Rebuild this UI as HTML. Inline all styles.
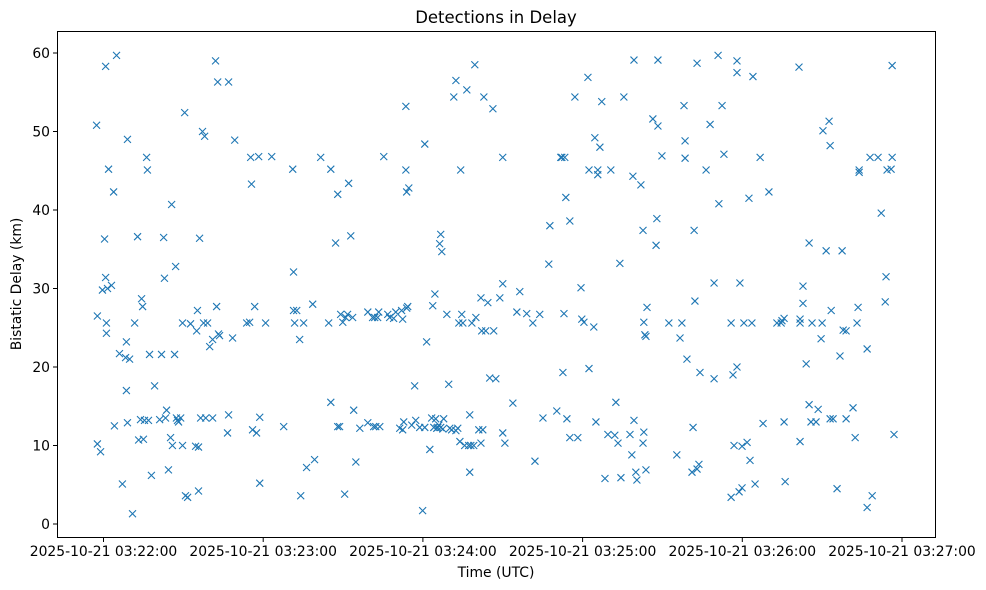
<!DOCTYPE html>
<html><head><meta charset="utf-8"><style>
body{margin:0;background:#fff;}
svg{display:block;font-family:"DejaVu Sans","Liberation Sans",sans-serif;}
</style></head><body>
<svg id="chart" width="986" height="590" viewBox="0 0 986 590" xmlns="http://www.w3.org/2000/svg">
<rect x="0" y="0" width="986" height="590" fill="#fff"/>
<text x="496" y="23" text-anchor="middle" font-size="16.5">Detections in Delay</text>
<g id="marks"></g>
<g id="axes"></g>
<rect x="57.5" y="31.5" width="878" height="506" fill="none" stroke="#000" stroke-width="1"/>
<text x="496" y="577" text-anchor="middle" font-size="13.9">Time (UTC)</text>
<text transform="translate(21,284) rotate(-90)" text-anchor="middle" font-size="13.9">Bistatic Delay (km)</text>
</svg>
<script>
// seconds after 2025-10-21 03:22:00 UTC
const times=[-2.6,-2.3,-2.3,-1.1,-0.4,0.4,0.8,0.8,1.1,1.1,1.5,1.9,3.0,3.8,4.1,4.9,6.0,7.1,8.3,8.6,8.6,9.0,9.0,9.8,10.9,11.7,12.8,13.2,13.9,14.3,14.7,15.0,15.4,16.2,16.5,16.9,17.3,18.0,19.2,21.1,21.8,22.6,22.9,23.3,23.7,24.4,25.2,25.6,25.9,26.7,27.1,27.4,27.8,28.2,29.0,29.7,29.7,30.5,30.8,31.6,32.7,34.6,35.0,35.3,35.7,35.7,36.1,36.5,37.2,37.6,38.0,38.4,39.1,39.9,41.0,41.0,42.1,42.5,42.9,43.2,43.6,46.6,47.0,47.0,48.5,49.3,53.8,54.9,55.3,55.6,56.0,56.8,57.5,58.3,58.7,58.7,60.9,63.2,67.7,71.1,71.4,71.4,71.8,72.6,73.7,74.1,75.2,76.3,78.6,79.3,81.6,84.6,85.4,85.4,87.2,88.0,88.0,88.7,89.1,89.9,90.6,91.0,91.7,92.1,92.9,93.6,94.0,94.8,96.3,99.3,99.3,101.1,101.5,101.9,102.3,103.0,103.4,103.8,105.3,106.8,107.5,109.0,109.8,111.3,112.0,112.4,112.4,112.8,113.6,113.6,113.9,114.3,113.9,114.7,115.8,116.9,117.3,118.8,119.9,120.7,120.7,121.4,122.6,123.3,123.7,124.1,124.5,124.8,125.2,125.6,126.0,126.3,126.7,126.7,127.1,127.5,127.8,129.0,129.7,130.1,130.8,131.6,132.4,132.4,133.1,133.5,133.9,134.2,134.6,135.0,135.7,136.5,137.2,137.6,137.6,138.0,138.4,139.1,139.5,139.9,141.0,141.8,141.8,142.1,142.5,142.9,143.6,144.4,145.1,146.3,146.6,147.4,148.9,150.0,150.0,150.0,150.8,153.8,155.3,156.4,159.0,161.3,162.1,163.9,165.1,167.3,167.7,170.3,171.8,172.2,172.6,173.0,173.3,173.7,174.1,175.2,175.2,177.1,178.2,179.4,179.7,180.5,182.0,182.4,182.4,184.2,184.6,185.0,185.7,185.7,186.5,187.2,188.4,189.5,190.6,192.1,192.5,193.3,194.0,194.4,195.5,197.8,198.5,198.9,199.3,199.3,200.0,200.4,201.9,202.7,202.7,203.0,203.0,203.4,203.8,203.8,204.2,206.4,207.6,207.9,208.3,208.3,209.8,212.4,215.4,216.6,217.3,218.1,218.5,218.5,219.2,221.1,221.5,221.9,222.2,223.0,223.0,223.7,224.1,226.4,227.9,229.4,229.4,230.9,231.2,232.4,233.1,235.8,235.8,236.5,236.9,238.0,238.0,238.0,238.8,239.1,239.9,239.9,240.6,241.8,242.5,242.9,243.6,244.0,244.8,246.7,247.8,250.0,253.0,254.6,254.9,255.7,255.7,256.1,261.3,261.7,261.7,261.7,262.8,262.8,264.0,265.1,265.1,265.8,266.2,267.7,268.5,269.6,270.0,270.3,271.5,272.6,273.0,273.0,273.4,274.1,275.6,276.7,277.5,277.9,279.0,279.0,281.6,282.4,283.1,283.5,283.9,283.9,286.9,286.9,288.0,288.8,291.0,292.2,293.7,294.0,294.4,295.9,296.3,296.3,297.0];
const delays=[50.8,26.5,10.2,9.2,29.8,36.3,31.4,58.3,25.6,24.3,30,45.2,30.4,42.3,12.5,59.7,21.7,5.1,21.2,17,23.2,49,12.9,21,1.3,25.6,36.6,10.7,13.3,28.7,27.7,10.8,13.2,46.7,45.1,13.2,21.6,6.2,17.6,13.3,21.6,36.5,31.3,13.5,14.5,6.9,11,40.7,10,21.6,32.8,13.5,13.2,13,13.5,10,25.6,52.4,3.6,3.4,25.5,9.9,24.6,27.2,9.8,4.2,36.4,13.5,50,25.6,49.4,13.5,25.6,22.6,13.5,23.5,59,27.7,56.3,24.2,24,11.6,56.3,13.9,23.7,48.9,25.6,25.7,46.7,43.3,12,27.7,11.6,46.8,13.6,5.2,25.6,46.8,12.4,45.2,32.1,27.2,25.6,27.2,23.5,3.6,25.6,7.2,28,8.2,46.7,25.6,45.2,15.5,35.8,42,12.4,12.4,26.7,25.7,3.8,26.3,26.7,43.4,36.7,26.3,14.5,7.9,12.2,12.9,27,26.3,12.4,26.3,12.4,26.3,27,12.4,46.8,26.7,26.3,26.2,27,12.2,27.2,12,26.1,13,53.2,45.1,27.5,27.7,42.3,42.8,12.6,17.6,13.2,12.3,1.7,48.4,12.3,23.2,9.5,13.5,27.8,12.3,29.3,13.4,12.2,12.3,12.6,35.7,36.9,12.3,34.7,12.1,13.4,26.7,17.8,12.2,12,54.4,11.9,56.5,12.2,25.6,10.5,45.1,26.7,25.6,10,55.3,10,6.6,13.9,10,25.6,10,58.5,26.3,12,28.8,10.3,24.6,12,54.4,24.6,28.2,18.6,52.9,24.6,18.5,28.8,30.6,46.7,11.6,10.3,15.4,27,29.6,26.8,25.6,8,26.7,13.5,33.1,38,14.4,46.7,46.7,19.3,26.8,46.7,41.6,13.4,38.6,11,54.4,11,30.1,26.1,25.7,56.9,45.1,19.8,25.1,49.2,13,44.5,45.1,48,53.8,5.8,11.4,45.1,11.3,15.5,10.3,33.2,5.9,54.4,11.4,8.8,44.3,59.1,13.2,6.6,5.6,43.2,37.4,10.3,25.7,11.7,24.1,6.9,23.9,27.6,51.6,35.5,38.9,50.7,59.1,46.9,25.6,8.8,23.7,25.6,53.3,48.8,46.6,21,6.6,12.3,37.4,28.4,58.7,7,7.6,19.3,45.1,50.9,18.5,30.7,59.7,40.8,53.3,47.1,25.6,3.4,19,10,59,57.5,20,4.1,30.7,4.6,9.9,25.6,10.4,41.5,8.1,25.6,57,5.1,46.7,12.8,42.3,25.6,25.6,25.9,13,26.2,5.4,58.2,25.6,10.5,26.1,28.1,30.3,20.4,35.8,15.2,13,25.6,13,14.6,23.6,25.6,50.1,34.8,51.3,48.2,13.4,27.2,13.4,4.5,21.4,34.8,24.7,24.6,13.4,14.8,11,25.6,27.6,45.1,44.8,2.1,22.3,46.7,3.6,46.7,39.6,28.3,31.5,45.1,45.2,58.4,46.7,11.4];
const yTicks=[0,10,20,30,40,50,60];
const xTicks=[0,60,120,180,240,300];
const xTickLabels=["2025-10-21 03:22:00","2025-10-21 03:23:00","2025-10-21 03:24:00","2025-10-21 03:25:00","2025-10-21 03:26:00","2025-10-21 03:27:00"];

const NS="http://www.w3.org/2000/svg";
function xs(t){return 103.5+t*(159.7/60);}
function ys(k){return 524-k*7.85;}
const axes=document.getElementById('axes');
yTicks.forEach(v=>{
  const y=ys(v);
  const l=document.createElementNS(NS,'line');
  l.setAttribute('x1',53);l.setAttribute('x2',57.5);l.setAttribute('y1',y);l.setAttribute('y2',y);l.setAttribute('stroke','#000');
  
  
  axes.appendChild(l);
  const t=document.createElementNS(NS,'text');
  t.setAttribute('x',50);t.setAttribute('y',y+5);t.setAttribute('text-anchor','end');t.setAttribute('font-size','13.9');
  t.textContent=v;
  
  
  axes.appendChild(t);
});
xTicks.forEach((v,i)=>{
  const x=xs(v);
  const l=document.createElementNS(NS,'line');
  l.setAttribute('x1',x);l.setAttribute('x2',x);l.setAttribute('y1',537.5);l.setAttribute('y2',542);l.setAttribute('stroke','#000');
  
  
  axes.appendChild(l);
  const t=document.createElementNS(NS,'text');
  t.setAttribute('x',x);t.setAttribute('y',556);t.setAttribute('text-anchor','middle');t.setAttribute('font-size','13.9');
  t.textContent=xTickLabels[i];
  
  
  axes.appendChild(t);
});
const marks=document.getElementById('marks');
times.forEach((tv,i)=>{
  const x=xs(tv),y=ys(delays[i]),r=3.5;
  const p=document.createElementNS(NS,'path');
  p.setAttribute('d',`M${x-r},${y-r}L${x+r},${y+r}M${x-r},${y+r}L${x+r},${y-r}`);
  p.setAttribute('stroke','#1f77b4');p.setAttribute('stroke-width','1.1');p.setAttribute('fill','none');
  
  
  marks.appendChild(p);
});
</script>
</body></html>
